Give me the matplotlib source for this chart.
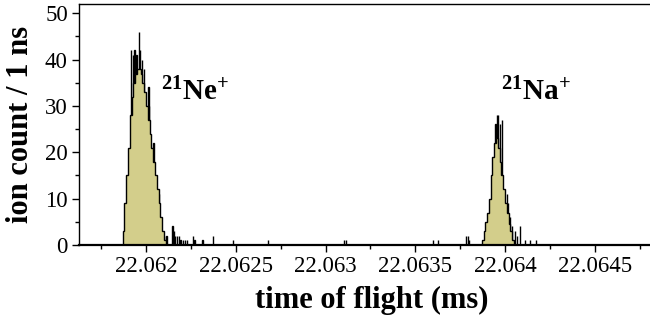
import numpy as np
import matplotlib
matplotlib.use("Agg")
import matplotlib.pyplot as plt
from matplotlib.ticker import MultipleLocator, FuncFormatter

plt.rcParams["font.family"] = ["Liberation Serif", "DejaVu Serif"]
plt.rcParams["mathtext.fontset"] = "custom"
plt.rcParams["mathtext.rm"] = "Liberation Serif"
plt.rcParams["mathtext.bf"] = "Liberation Serif:bold"

# main peak bodies, 10 ns wide bins (typical count per 1 ns)
bin_width = 0.00001
ne_start = 22.06187
ne_counts = [3, 9, 15, 21, 28, 32, 35, 37, 38, 38, 37, 35,
             33, 30, 27, 24, 21, 18, 15, 12, 9, 6, 3, 1]
na_start = 22.06387
na_counts = [1, 3, 5, 7, 10, 15, 19, 22, 23, 21, 18, 15,
             12, 9, 7, 4.5, 3, 1]

# single 1 ns bins sticking out (peak tops and tails)
spike_tof = [22.061883, 22.061919, 22.061928, 22.061936, 22.061947,
             22.061961, 22.061969, 22.061978, 22.061989, 22.062014,
             22.062019, 22.062042, 22.062070,
             22.062100, 22.062114, 22.062148, 22.062156, 22.062164,
             22.062173, 22.062184, 22.062192, 22.062206, 22.062217,
             22.062228, 22.062262, 22.062270, 22.062315, 22.062373,
             22.062484, 22.062682, 22.063102, 22.063116, 22.063598,
             22.063626,
             22.063782, 22.063793, 22.063801, 22.063947, 22.063955,
             22.063962, 22.063971, 22.063984, 22.064010, 22.064017,
             22.064027, 22.064038, 22.064057, 22.064065, 22.064082,
             22.064111, 22.064138, 22.064172]
spike_counts = [6, 42, 41, 42, 41, 46, 42, 40, 38, 34, 30, 22, 11,
                2, 2, 4, 3, 2, 2, 2, 1, 1, 1, 1, 2, 1, 1, 2, 1, 1, 1, 1, 1, 1,
                2, 2, 1, 26, 28, 28, 26, 27, 11, 9, 6, 4, 3, 2, 4, 1, 1, 1]

fill_color = "#d3ce8b"

fig = plt.figure(figsize=(6.5, 3.21), dpi=100)
ax = fig.add_axes([0.1215, 0.2368, 0.8765, 0.7507])

# spikes go underneath so only the part above the body stays visible
ax.bar(spike_tof, spike_counts, width=0.000001, align="center",
       color=fill_color, edgecolor="black", linewidth=1.0, zorder=1)

for start, counts in [(ne_start, ne_counts), (na_start, na_counts)]:
    edges = start + bin_width * np.arange(len(counts) + 1)
    ax.stairs(counts, edges, fill=True, facecolor=fill_color,
              edgecolor="none", zorder=2)
    ax.stairs(counts, edges, color="black", linewidth=1.0,
              baseline=0, zorder=4)

ax.text(22.062084, 31.2, r"$\mathbf{^{21}}$Ne$\mathbf{^{+}}$",
        fontsize=21, fontweight="bold", va="baseline", ha="left")
ax.text(22.063977, 31.2, r"$\mathbf{^{21}}$Na$\mathbf{^{+}}$",
        fontsize=21, fontweight="bold", va="baseline", ha="left")

ax.set_xlim(22.061627, 22.0648)
ax.set_ylim(0, 52)

ax.xaxis.set_major_locator(MultipleLocator(0.0005))
ax.xaxis.set_minor_locator(MultipleLocator(0.00025))
ax.xaxis.set_major_formatter(FuncFormatter(lambda v, p: "%g" % round(v, 5)))
ax.yaxis.set_major_locator(MultipleLocator(10))
ax.yaxis.set_minor_locator(MultipleLocator(5))

ax.tick_params(which="major", direction="out", length=5, width=1,
               labelsize=16.5, pad=3)
ax.tick_params(which="minor", direction="out", length=3, width=1)
ax.tick_params(axis="x", which="both", top=False)
ax.tick_params(axis="y", which="both", right=False)

ax.spines["right"].set_visible(False)
ax.spines["bottom"].set_linewidth(1.6)
ax.spines["left"].set_linewidth(1.0)
ax.spines["top"].set_linewidth(1.0)

ax.set_xlabel("time of flight (ms)", fontsize=22, fontweight="bold")
ax.set_ylabel("ion count / 1 ns", fontsize=22, fontweight="bold")
ax.xaxis.set_label_coords((372 - 79) / 570, -(300 - 245) / 241)
ax.yaxis.set_label_coords(-(79 - 20) / 570, 0.5)
ax.xaxis.label.set_va("center")
ax.yaxis.label.set_va("center")

fig.savefig("out.png", dpi=100)
